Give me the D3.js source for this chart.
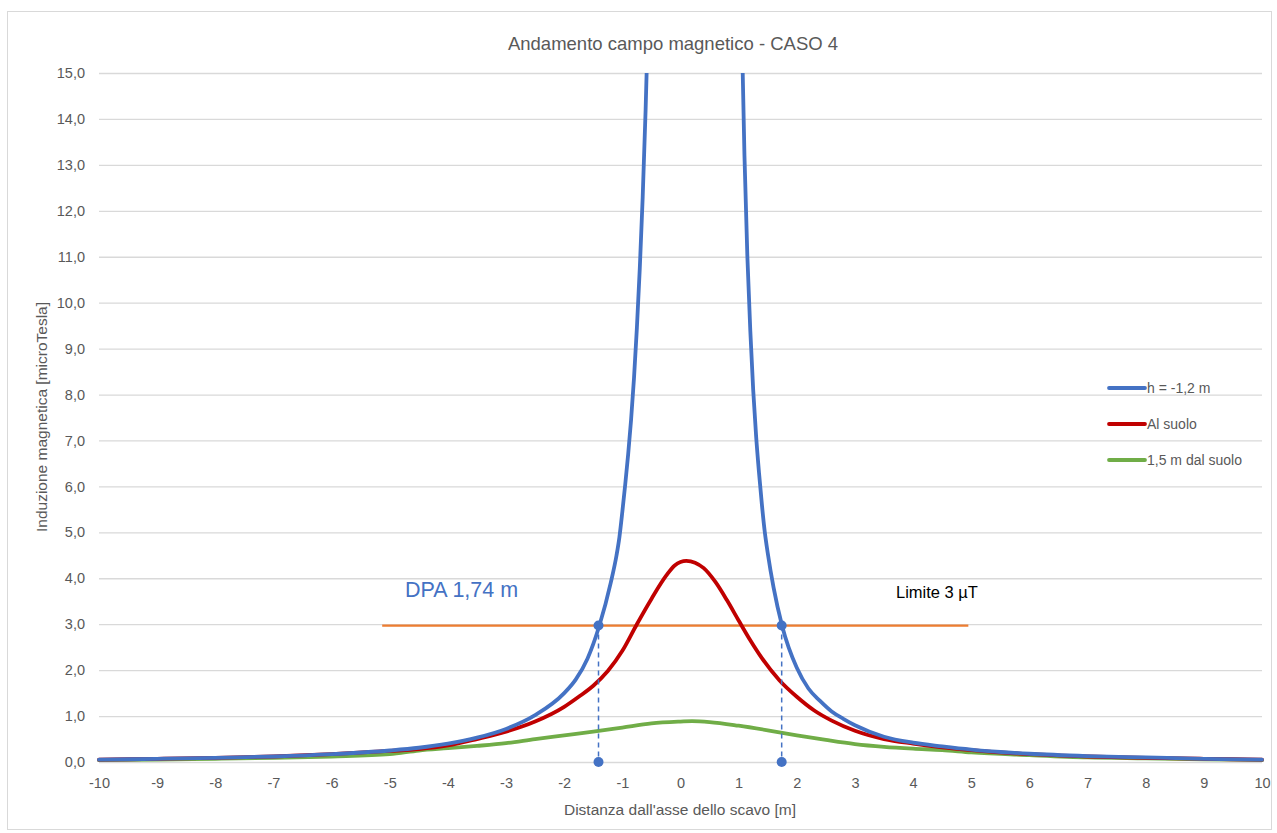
<!DOCTYPE html>
<html>
<head>
<meta charset="utf-8">
<script src="https://cdn.jsdelivr.net/npm/d3@7"></script>
<style>
  html, body { margin: 0; padding: 0; background: #fff; }
  svg { display: block; }
  text { font-family: "Liberation Sans", Arial, sans-serif; }
</style>
</head>
<body>
<svg id="chart" width="1277" height="833"></svg>
<script>
// ---- Data ----
const title = "Andamento campo magnetico - CASO 4";
const xAxisTitle = "Distanza dall'asse dello scavo [m]";
const yAxisTitle = "Induzione magnetica [microTesla]";
const xTicks = [-10,-9,-8,-7,-6,-5,-4,-3,-2,-1,0,1,2,3,4,5,6,7,8,9,10];
const yTicks = [0,1,2,3,4,5,6,7,8,9,10,11,12,13,14,15];

const seriesNames = ["h = -1,2 m", "Al suolo", "1,5 m dal suolo"];

const blueX = [-10,-9,-8,-7,-6,-5,-4.5,-4,-3.5,-3,-2.5,-2,-1.8,-1.6,-1.4,-1.2,-1.1,-1.05,-1.0,-0.95,-0.9,-0.85,-0.8,-0.75,-0.7,-0.65,-0.6,-0.55,-0.5,0.25,1.0,1.05,1.07,1.1,1.15,1.2,1.25,1.3,1.35,1.4,1.45,1.5,1.6,1.75,2.0,2.2,2.4,2.6,2.8,3.0,3.5,4.0,4.5,5,6,7,8,9,10];
const blueY = [0.05,0.07,0.09,0.12,0.17,0.25,0.31,0.40,0.53,0.72,1.02,1.5,1.8,2.25,2.95,3.9,4.5,4.9,5.45,6.05,6.7,7.45,8.35,9.45,10.75,12.3,14.2,16.5,19.2,60,19.8,16.3,15,13.2,11.0,9.4,8.1,7.1,6.3,5.6,5.0,4.55,3.8,2.95,2.05,1.6,1.33,1.1,0.94,0.8,0.55,0.42,0.34,0.27,0.18,0.13,0.10,0.07,0.05];

const redX = [-10,-9,-8,-7,-6,-5,-4.5,-4,-3.5,-3,-2.5,-2,-1.75,-1.5,-1.25,-1.0,-0.75,-0.5,-0.25,-0.1,0.1,0.25,0.4,0.6,0.8,1.0,1.2,1.4,1.7,2.0,2.3,2.6,3.0,3.5,4,4.5,5,6,7,8,9,10];
const redY = [0.05,0.07,0.09,0.12,0.17,0.24,0.28,0.36,0.5,0.66,0.88,1.2,1.42,1.66,1.98,2.42,3.0,3.55,4.05,4.28,4.38,4.34,4.22,3.92,3.52,3.08,2.65,2.26,1.78,1.42,1.12,0.9,0.68,0.5,0.4,0.32,0.26,0.17,0.12,0.09,0.07,0.05];

const greenX = [-10,-9,-8,-7,-6,-5,-4.5,-4,-3.5,-3,-2.5,-2,-1.5,-1,-0.5,0,0.2,0.5,1,1.5,2,2.5,3,3.5,4,4.5,5,6,7,8,9,10];
const greenY = [0.04,0.05,0.07,0.09,0.12,0.17,0.25,0.3,0.35,0.41,0.5,0.58,0.66,0.75,0.84,0.88,0.89,0.87,0.79,0.69,0.58,0.48,0.39,0.33,0.29,0.26,0.21,0.15,0.10,0.08,0.06,0.04];

const limitX = [-5.13, 4.95];
const limitValue = 2.97;
const limitLabel = "Limite 3 \u00B5T";
const dpaX = [-1.41, 1.74];
const dpaLabel = "DPA 1,74 m";

// ---- Layout ----
const svg = d3.select("#chart");
const x = d3.scaleLinear().domain([-10, 10]).range([99, 1262]);
const y = d3.scaleLinear().domain([0, 15]).range([762, 73]);
const fmt = d => d.toFixed(1).replace(".", ",");

svg.append("rect").attr("x", 7.5).attr("y", 11.5).attr("width", 1264).attr("height", 818)
  .attr("fill", "#fff").attr("stroke", "#d9d9d9").attr("stroke-width", 1);

// gridlines
const gridAxis = d3.axisLeft(y).tickValues(yTicks).tickSize(-(1262 - 99)).tickFormat("");
const g = svg.append("g").attr("transform", "translate(99,0)").call(gridAxis);
g.select(".domain").remove();
g.selectAll("line").attr("stroke", "#d9d9d9").attr("stroke-width", 1.3);

// y tick labels
const yAx = svg.append("g").attr("transform", "translate(99,0)")
  .call(d3.axisLeft(y).tickValues(yTicks).tickSize(0).tickPadding(14).tickFormat(fmt));
yAx.select(".domain").remove();
yAx.selectAll("text").attr("fill", "#595959").style("font-size", "14.5px");

// x tick labels
const xAx = svg.append("g").attr("transform", "translate(0,762)")
  .call(d3.axisBottom(x).tickValues(xTicks).tickSize(0).tickPadding(16).tickFormat(d => String(d)));
xAx.select(".domain").remove();
xAx.selectAll("text").attr("fill", "#595959").style("font-size", "14.5px");

// titles
svg.append("text").attr("x", 673).attr("y", 50).attr("text-anchor", "middle")
  .attr("fill", "#595959").style("font-size", "18.5px").text(title);
svg.append("text").attr("x", 680).attr("y", 815).attr("text-anchor", "middle")
  .attr("fill", "#595959").style("font-size", "15.5px").text(xAxisTitle);
svg.append("text").attr("transform", "translate(47,417) rotate(-90)").attr("text-anchor", "middle")
  .attr("fill", "#595959").style("font-size", "15.5px").text(yAxisTitle);

// clip
svg.append("clipPath").attr("id", "plotclip").append("rect")
  .attr("x", 90).attr("y", 73).attr("width", 1180).attr("height", 700);

const line = d3.line().x(d => x(d[0])).y(d => y(d[1])).curve(d3.curveMonotoneX);
const series = [
  { name: seriesNames[0], color: "#4472C4", data: d3.zip(blueX, blueY) },
  { name: seriesNames[1], color: "#C00000", data: d3.zip(redX, redY) },
  { name: seriesNames[2], color: "#70AD47", data: d3.zip(greenX, greenY) }
];

const plot = svg.append("g").attr("clip-path", "url(#plotclip)");

// limit line
plot.append("line").attr("x1", x(limitX[0])).attr("x2", x(limitX[1]))
  .attr("y1", y(limitValue)).attr("y2", y(limitValue))
  .attr("stroke", "#ED7D31").attr("stroke-width", 2.2);

// series (blue on top)
[series[2], series[1], series[0]].forEach(s => {
  plot.append("path").datum(s.data).attr("d", line)
    .attr("fill", "none").attr("stroke", s.color).attr("stroke-width", 3.8)
    .attr("stroke-linejoin", "round").attr("stroke-linecap", "round");
});

// DPA markers
dpaX.forEach(v => {
  svg.append("line").attr("x1", x(v)).attr("x2", x(v)).attr("y1", y(limitValue)).attr("y2", y(0))
    .attr("stroke", "#4472C4").attr("stroke-width", 1.5).attr("stroke-dasharray", "5,4");
  svg.append("circle").attr("cx", x(v)).attr("cy", y(limitValue)).attr("r", 5).attr("fill", "#4472C4");
  svg.append("circle").attr("cx", x(v)).attr("cy", y(0)).attr("r", 5).attr("fill", "#4472C4");
});

// annotations
svg.append("text").attr("x", 405).attr("y", 597).attr("fill", "#4472C4")
  .style("font-size", "21.5px").text(dpaLabel);
svg.append("text").attr("x", 896).attr("y", 598).attr("fill", "#000")
  .style("font-size", "16.5px").text(limitLabel);

// legend
const leg = svg.append("g");
series.forEach((s, i) => {
  const yy = [388, 424, 460][i];
  leg.append("line").attr("x1", 1109).attr("x2", 1145).attr("y1", yy).attr("y2", yy)
    .attr("stroke", s.color).attr("stroke-width", 3.8).attr("stroke-linecap", "round");
  leg.append("text").attr("x", 1147).attr("y", yy + 5).attr("fill", "#595959")
    .style("font-size", "14px").text(s.name);
});
</script>
</body>
</html>
